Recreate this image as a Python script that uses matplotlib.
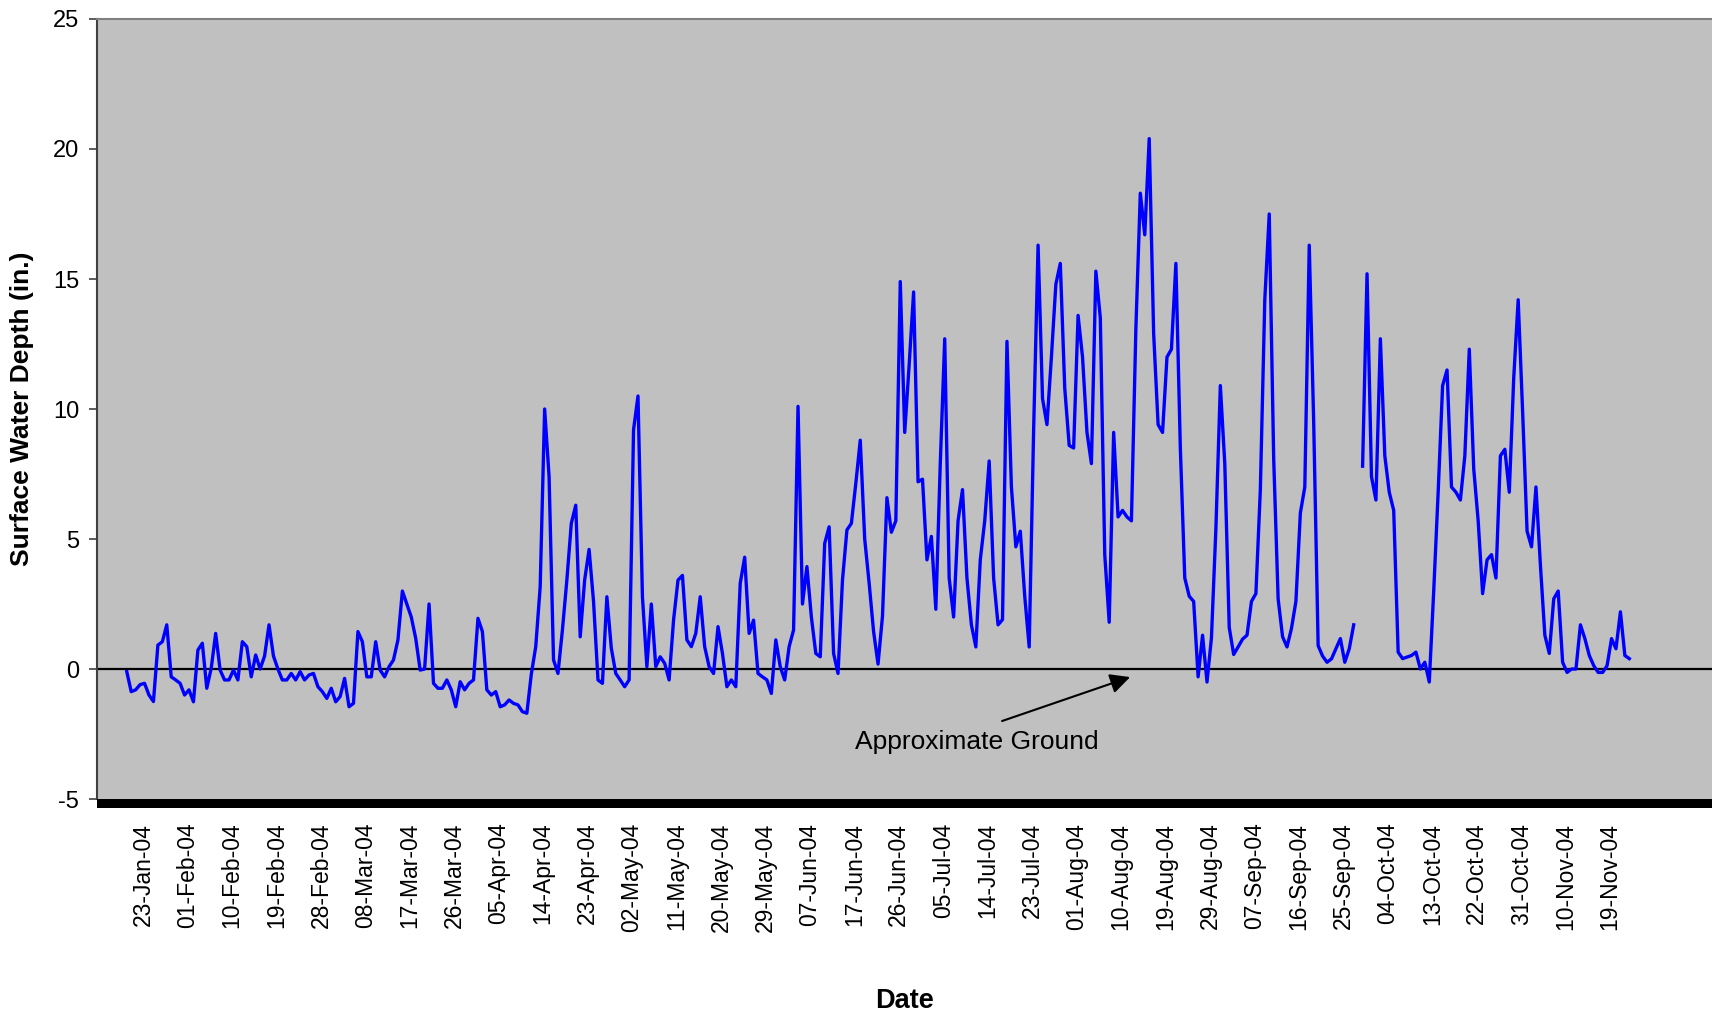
import numpy as np
import matplotlib
matplotlib.use("Agg")
import matplotlib.pyplot as plt
from matplotlib.patches import Rectangle

plt.rcParams['font.family'] = ['Liberation Sans', 'DejaVu Sans']
plt.rcParams['axes.unicode_minus'] = False

# surface water depth readings (in.), one reading per category on the x axis
# nan marks the missing stretch in late September
depth_in = [
    -0.1, -0.87, -0.8, -0.6, -0.55, -1.0, -1.25, 0.92, 1.05, 1.7,
    -0.3, -0.42, -0.55, -1.0, -0.8, -1.26, 0.73, 0.99, -0.74, 0.03,
    1.37, -0.04, -0.42, -0.42, -0.04, -0.42, 1.05, 0.86, -0.3, 0.54,
    0.0, 0.5, 1.7, 0.5, 0.0, -0.42, -0.42, -0.17, -0.42, -0.1,
    -0.42, -0.23, -0.17, -0.68, -0.87, -1.13, -0.74, -1.26, -1.06, -0.36,
    -1.45, -1.32, 1.44, 1.05, -0.3, -0.3, 1.05, -0.04, -0.3, 0.09,
    0.35, 1.12, 3.0, 2.5, 2.0, 1.18, -0.04, 0.0, 2.5, -0.55,
    -0.74, -0.74, -0.42, -0.8, -1.45, -0.49, -0.8, -0.55, -0.42, 1.95,
    1.44, -0.8, -1.0,
    -0.87, -1.45, -1.38, -1.19, -1.32, -1.38, -1.64, -1.7, -0.2, 0.86,
    3.17, 10.0, 7.4, 0.35, -0.17, 1.5, 3.42, 5.6, 6.3, 1.24,
    3.42, 4.6, 2.6, -0.42, -0.55, 2.78, 0.8, -0.17, -0.42, -0.68,
    -0.42, 9.2, 10.5, 2.78, 0.09, 2.5, 0.09, 0.47, 0.22, -0.42,
    1.88, 3.42, 3.6, 1.12, 0.86, 1.37, 2.78, 0.86, 0.09, -0.17,
    1.63, 0.6, -0.68, -0.42, -0.68, 3.3, 4.3, 1.37, 1.88, -0.17,
    -0.3, -0.42, -0.94, 1.12, 0.09, -0.42, 0.86, 1.5, 10.1, 2.5,
    3.94, 2.0, 0.6, 0.47, 4.83, 5.47, 0.6, -0.17, 3.42, 5.35,
    5.6, 7.14, 8.8, 5.0, 3.3,
    1.44, 0.19, 2.03, 6.59, 5.26, 5.7, 14.9, 9.1, 11.7, 14.5,
    7.2, 7.3, 4.2, 5.1, 2.3, 7.9, 12.7, 3.5, 2.0, 5.7,
    6.9, 3.5, 1.7, 0.85, 4.2, 5.7, 8.0, 3.5, 1.7, 1.9,
    12.6, 7.0, 4.7, 5.3, 2.8, 0.85, 9.2, 16.3, 10.4, 9.4,
    12.0, 14.8, 15.6, 10.8, 8.6, 8.5, 13.6, 12.0, 9.1, 7.9,
    15.3, 13.5, 4.4, 1.8, 9.1, 5.85, 6.1, 5.85, 5.7, 13.1,
    18.3, 16.7, 20.4, 12.9, 9.4, 9.1, 12.0, 12.3, 15.6, 8.5,
    3.5, 2.8, 2.6, -0.3, 1.3, -0.5, 1.2, 5.4, 10.9, 7.9,
    1.6, 0.56, 0.85, 1.15,
    1.3, 2.6, 2.9, 6.9, 14.2, 17.5, 8.1, 2.7, 1.24, 0.85,
    1.56, 2.6, 6.0, 7.0, 16.3, 9.5, 0.9, 0.5, 0.26, 0.39,
    0.78, 1.17, 0.26, 0.78, 1.7, np.nan, 7.8, 15.2, 7.4, 6.5,
    12.7, 8.2, 6.8, 6.1, 0.65, 0.4, 0.46, 0.52, 0.65, 0.0,
    0.26, -0.5, 3.0, 6.8, 10.9, 11.5, 7.0, 6.8, 6.5, 8.2,
    12.3, 7.7, 5.7, 2.9, 4.2, 4.4, 3.5, 8.2, 8.45, 6.8,
    11.2, 14.2, 9.9, 5.3, 4.7, 7.0, 4.0, 1.3, 0.6, 2.7,
    3.0, 0.26, -0.13, 0.0, 0.0, 1.7, 1.17, 0.52, 0.13, -0.13,
    -0.13, 0.13, 1.17, 0.78, 2.2, 0.52, 0.4,
]

tick_dates = [
    '23-Jan-04', '01-Feb-04', '10-Feb-04', '19-Feb-04', '28-Feb-04',
    '08-Mar-04', '17-Mar-04', '26-Mar-04', '05-Apr-04', '14-Apr-04',
    '23-Apr-04', '02-May-04', '11-May-04', '20-May-04', '29-May-04',
    '07-Jun-04', '17-Jun-04', '26-Jun-04', '05-Jul-04', '14-Jul-04',
    '23-Jul-04', '01-Aug-04', '10-Aug-04', '19-Aug-04', '29-Aug-04',
    '07-Sep-04', '16-Sep-04', '25-Sep-04', '04-Oct-04', '13-Oct-04',
    '22-Oct-04', '31-Oct-04', '10-Nov-04', '19-Nov-04',
]

y_ticks = [-5, 0, 5, 10, 15, 20, 25]

# category axis: a date label every 10 readings
first_label = 3.67
points_per_label = 10

fig = plt.figure(figsize=(17.12, 10.21), dpi=100)
ax = fig.add_axes([0.0567, 0.2174, 0.9433, 0.7640])
ax.set_facecolor('#C0C0C0')

x = np.arange(len(depth_in))
ax.plot(x, depth_in, color='#0000FF', lw=2.4, zorder=3)
ax.axhline(0, color='black', lw=1.6, zorder=2)

ax.set_xlim(-6.68, 356.6)
ax.set_ylim(-5, 25)
ax.set_yticks(y_ticks)
ax.set_xticks(first_label + points_per_label * np.arange(len(tick_dates)))
ax.set_xticklabels(tick_dates, rotation=90)

ax.tick_params(axis='y', direction='out', length=6, width=1.2, color='#404040',
               labelsize=17, pad=7)
ax.tick_params(axis='x', length=0, labelsize=16.5, pad=17)

for side in ['right', 'bottom']:
    ax.spines[side].set_visible(False)
ax.spines['top'].set_color('#808080')
ax.spines['top'].set_linewidth(1.5)
ax.spines['left'].set_color('#404040')
ax.spines['left'].set_linewidth(1.5)

# heavy black band under the plot area
bar_h = 9 / 780
ax.add_patch(Rectangle((0, -bar_h), 1, bar_h, transform=ax.transAxes,
                       facecolor='black', edgecolor='none', clip_on=False, zorder=4))

ax.set_ylabel('Surface Water Depth (in.)', fontsize=19, fontweight='bold', va='center')
ax.yaxis.set_label_coords(-0.0465, 0.5)
ax.set_xlabel('Date', fontsize=19.5, fontweight='bold', va='center')
ax.xaxis.set_label_coords(0.5, -0.259)

ax.text(191.2, -2.81, 'Approximate Ground', ha='center', va='center', fontsize=19)
ax.annotate('', xy=(225.7, -0.31), xytext=(196.9, -2.0),
            arrowprops=dict(arrowstyle='-|>', color='black', lw=1.5,
                            mutation_scale=30, shrinkA=0, shrinkB=0))

fig.savefig('out.png', dpi=100)
